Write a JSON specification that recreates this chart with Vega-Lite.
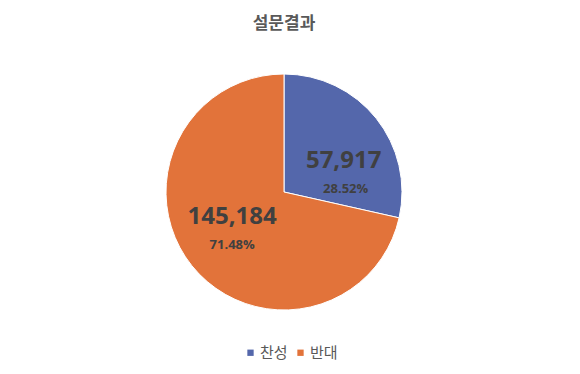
{
  "$schema": "https://vega.github.io/schema/vega-lite/v6.json",
  "width": 568,
  "height": 304,
  "autosize": {"type": "none"},
  "padding": {"top": 40, "left": 0, "right": 12, "bottom": 30},
  "background": "#ffffff",
  "title": {
    "text": "설문결과",
    "font": "Noto Sans CJK KR",
    "fontSize": 17,
    "fontWeight": "bold",
    "color": "#595959",
    "anchor": "middle",
    "offset": 7
  },
  "data": {
    "values": [
      {"label": "찬성", "count": 57917, "pct": 0.2852},
      {"label": "반대", "count": 145184, "pct": 0.7148}
    ]
  },
  "encoding": {
    "theta": {"field": "count", "type": "quantitative", "stack": true},
    "order": {"field": "label", "sort": "descending"}
  },
  "layer": [
    {
      "mark": {"type": "arc", "radius": 118, "stroke": "#ffffff", "strokeWidth": 1},
      "encoding": {
        "color": {
          "field": "label",
          "type": "nominal",
          "scale": {"domain": ["찬성", "반대"], "range": ["#5467AB", "#E2733A"]},
          "legend": {
            "title": null,
            "orient": "none",
            "direction": "horizontal",
            "legendX": 243,
            "legendY": 305,
            "symbolType": "square",
            "symbolSize": 40,
            "symbolStrokeWidth": 0,
            "labelFont": "Noto Sans CJK KR",
            "labelFontSize": 15,
            "labelColor": "#595959",
            "labelOffset": 2,
            "columnPadding": 5
          }
        }
      }
    },
    {
      "mark": {"type": "text", "radius": 70, "dx": 5, "dy": 13, "font": "Open Sans", "fontSize": 24, "fontWeight": "bold", "color": "#404040"},
      "encoding": {
        "detail": {"field": "label"},
        "text": {"condition": {"test": "datum.label === '찬성'", "field": "count", "type": "quantitative", "format": ","}, "value": ""}
      }
    },
    {
      "mark": {"type": "text", "radius": 70, "dx": 7, "dy": 41, "font": "Open Sans", "fontSize": 13, "fontWeight": "bold", "color": "#404040"},
      "encoding": {
        "detail": {"field": "label"},
        "text": {"condition": {"test": "datum.label === '찬성'", "field": "pct", "type": "quantitative", "format": ".2%"}, "value": ""}
      }
    },
    {
      "mark": {"type": "text", "radius": 60, "dx": -5, "dy": -12, "font": "Open Sans", "fontSize": 24, "fontWeight": "bold", "color": "#404040"},
      "encoding": {
        "detail": {"field": "label"},
        "text": {"condition": {"test": "datum.label === '반대'", "field": "count", "type": "quantitative", "format": ","}, "value": ""}
      }
    },
    {
      "mark": {"type": "text", "radius": 60, "dx": -5, "dy": 16, "font": "Open Sans", "fontSize": 13, "fontWeight": "bold", "color": "#404040"},
      "encoding": {
        "detail": {"field": "label"},
        "text": {"condition": {"test": "datum.label === '반대'", "field": "pct", "type": "quantitative", "format": ".2%"}, "value": ""}
      }
    }
  ],
  "config": {"view": {"stroke": null}}
}
